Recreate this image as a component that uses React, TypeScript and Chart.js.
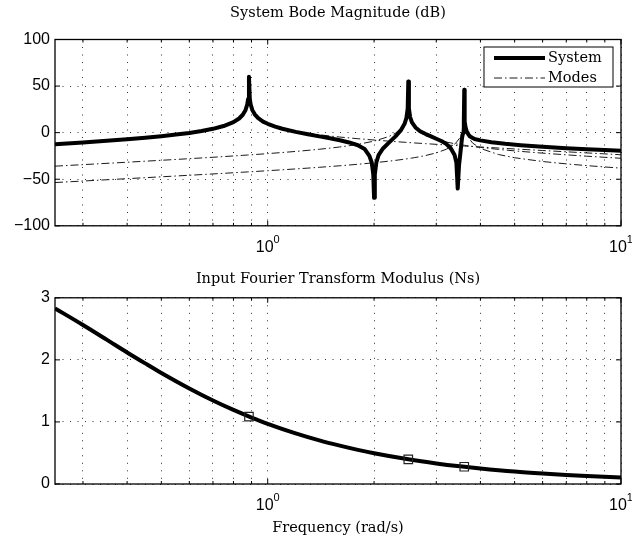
import React, { useEffect, useRef } from "react";
import { Chart, registerables } from "chart.js";
Chart.register(...registerables);

// ---------- data ----------
const sysFreq = [0.25, 0.3, 0.35, 0.4, 0.45, 0.5, 0.55, 0.6, 0.65, 0.7, 0.75, 0.8, 0.83, 0.85, 0.865, 0.875, 0.88, 0.885, 0.89, 0.895, 0.905, 0.92, 0.94, 0.97, 1.0, 1.05, 1.1, 1.2, 1.3, 1.4, 1.5, 1.6, 1.7, 1.8, 1.88, 1.94, 1.97, 1.99, 2.0, 2.01, 2.03, 2.06, 2.12, 2.2, 2.3, 2.38, 2.44, 2.47, 2.49, 2.5, 2.51, 2.53, 2.56, 2.62, 2.7, 2.8, 2.9, 3.0, 3.1, 3.2, 3.3, 3.38, 3.42, 3.45, 3.48, 3.515, 3.55, 3.575, 3.59, 3.6, 3.61, 3.63, 3.655, 3.7, 3.75, 3.85, 4.0, 4.3, 4.7, 5.2, 6, 7, 8, 9, 10];
const sysDb = [-12.5, -10.5, -8.7, -7.0, -5.4, -3.8, -2.1, -0.3, 1.7, 4.1, 7.1, 11.3, 15.2, 19.2, 24.1, 30.1, 36, 60, 36, 30.2, 24.2, 19.4, 15.5, 11.8, 9.5, 6.5, 4.2, 0.8, -1.8, -4.0, -6.1, -8.2, -10.5, -13.5, -17.5, -25, -32, -45, -70, -45, -32, -24, -17, -11, -4, 2.4, 9.5, 15.9, 25.7, 55, 26, 16.7, 11, 5.6, 1.5, -1.5, -4, -6.5, -9, -12, -17, -24, -32, -60, -35, -20, -5, 0, 10, 46, 12, 6, 2, -2, -4.5, -6.8, -8.3, -10.3, -12, -13.5, -15.2, -16.7, -17.8, -18.6, -19.3];

const modeFreq = [0.25, 0.3, 0.4, 0.5, 0.6, 0.7, 0.8, 0.85, 0.875, 0.885, 0.895, 0.92, 0.97, 1.0, 1.1, 1.2, 1.3, 1.4, 1.5, 1.6, 1.7, 1.8, 2.0, 2.2, 2.3, 2.4, 2.45, 2.49, 2.5, 2.51, 2.55, 2.6, 2.7, 2.8, 3.0, 3.2, 3.3, 3.4, 3.5, 3.55, 3.59, 3.6, 3.61, 3.65, 3.7, 3.8, 4.0, 4.5, 5.0, 6.0, 7.0, 8.0, 10];
const mode1Db = [-12.99, -11.07, -7.65, -4.35, -0.76, 3.76, 11.15, 19.13, 30.1, 60, 30.2, 19.47, 11.98, 9.48, 4.43, 1.44, -0.67, -2.29, -3.6, -4.71, -5.66, -6.5, -7.92, -9.11, -9.64, -10.13, -10.36, -10.55, -10.59, -10.64, -10.81, -11.03, -11.44, -11.82, -12.55, -13.21, -13.52, -13.82, -14.1, -14.24, -14.35, -14.38, -14.41, -14.52, -14.65, -14.91, -15.4, -16.52, -17.5, -19.17, -20.56, -21.75, -23.73];
const mode2Db = [-35.97, -34.35, -31.75, -29.68, -27.94, -26.41, -25.02, -24.36, -24.04, -23.91, -23.79, -23.48, -22.87, -22.5, -21.32, -20.16, -19.0, -17.83, -16.62, -15.36, -14.02, -12.56, -9.12, -4.24, -0.51, 5.7, 11.81, 25.86, 55, 25.9, 11.99, 6.05, 0.19, -3.18, -7.34, -10.01, -11.06, -11.97, -12.78, -13.15, -13.44, -13.51, -13.58, -13.85, -14.17, -14.77, -15.84, -17.96, -19.58, -22.01, -23.82, -25.27, -27.54];
const mode3Db = [-53.56, -51.95, -49.4, -47.4, -45.75, -44.32, -43.05, -42.46, -42.18, -42.07, -41.96, -41.69, -41.16, -40.86, -39.87, -38.94, -38.06, -37.2, -36.37, -35.56, -34.75, -33.94, -32.32, -30.64, -29.76, -28.84, -28.37, -27.97, -27.87, -27.77, -27.37, -26.85, -25.75, -24.54, -21.71, -17.89, -15.25, -11.59, -5.45, 0.64, 20, 46, 20, 0.76, -5.2, -11.11, -16.92, -23.49, -26.94, -30.99, -33.52, -35.4, -38.1];

const inputFreq = [0.25, 0.3, 0.35, 0.4, 0.45, 0.5, 0.6, 0.7, 0.8, 0.9, 1.0, 1.2, 1.4, 1.6, 1.8, 2.0, 2.5, 3.0, 3.5, 4, 5, 6, 7, 8, 10];
const inputMod = [2.83, 2.562, 2.326, 2.119, 1.943, 1.789, 1.539, 1.345, 1.193, 1.071, 0.97, 0.816, 0.703, 0.618, 0.55, 0.496, 0.398, 0.332, 0.285, 0.25, 0.2, 0.168, 0.145, 0.128, 0.105];
const markerFreq = [0.885, 2.5, 3.6];
const markerMod = [1.087, 0.398, 0.278];

const xGridVals = [0.3, 0.4, 0.5, 0.6, 0.7, 0.8, 0.9, 1, 2, 3, 4, 5, 6, 7, 8, 9, 10];
const xMajorVals = [1, 10];
const xMajorExp = ["0", "1"];
const legendLabels = ["System", "Modes"];
const titleTop = "System Bode Magnitude (dB)";
const titleBottom = "Input Fourier Transform Modulus (Ns)";
const xLabel = "Frequency (rad/s)";

const SERIF = '"DejaVu Serif", serif';
const SANS = '"Liberation Sans", Arial, sans-serif';
const MODE_DASH = [8, 3, 1.5, 3];
const MODE_COLOR = "#1a1a1a";

const pts = (xs: number[], ys: number[]) => xs.map((x, i) => ({ x, y: ys[i] }));

const decor = {
  id: "decor",
  afterDraw(chart: any, _args: any, opts: any) {
    const { ctx, chartArea: a, scales } = chart;
    const xs = scales.x;
    const ys = scales.y;
    const line = (x1: number, y1: number, x2: number, y2: number) => {
      ctx.beginPath();
      ctx.moveTo(x1, y1);
      ctx.lineTo(x2, y2);
      ctx.stroke();
    };
    ctx.save();
    ctx.setLineDash([]);
    ctx.strokeStyle = "#000";
    ctx.lineWidth = 1;
    xGridVals.forEach((v) => {
      const px = xs.getPixelForValue(v);
      const len = xMajorVals.includes(v) ? 5 : 3;
      line(px, a.bottom, px, a.bottom - len);
      line(px, a.top, px, a.top + len);
    });
    ys.ticks.forEach((t: any) => {
      const py = ys.getPixelForValue(t.value);
      line(a.left, py, a.left + 5, py);
      line(a.right, py, a.right - 5, py);
    });
    ctx.lineWidth = 1.3;
    ctx.strokeRect(a.left, a.top, a.right - a.left, a.bottom - a.top);

    // x tick labels 10^n
    ctx.fillStyle = "#000";
    ctx.textBaseline = "alphabetic";
    ctx.textAlign = "left";
    xMajorVals.forEach((v, i) => {
      const px = xs.getPixelForValue(v);
      ctx.font = `16px ${SANS}`;
      const w1 = ctx.measureText("10").width;
      ctx.font = `11px ${SANS}`;
      const w2 = ctx.measureText(xMajorExp[i]).width;
      const x0 = px - (w1 + w2) / 2;
      ctx.font = `16px ${SANS}`;
      ctx.fillText("10", x0, a.bottom + 26);
      ctx.font = `11px ${SANS}`;
      ctx.fillText(xMajorExp[i], x0 + w1, a.bottom + 17);
    });

    // title
    ctx.font = `14.5px ${SERIF}`;
    ctx.textAlign = "center";
    ctx.fillText(opts.title, (a.left + a.right) / 2, opts.titleY);
    if (opts.xlabel) {
      ctx.fillText(opts.xlabel, (a.left + a.right) / 2, opts.xlabelY);
    }

    // legend
    if (opts.legend) {
      const bx = 484, by = 47, bw = 129, bh = 40;
      ctx.fillStyle = "#fff";
      ctx.fillRect(bx, by, bw, bh);
      ctx.strokeStyle = "#000";
      ctx.lineWidth = 1;
      ctx.strokeRect(bx, by, bw, bh);
      ctx.lineWidth = 4;
      line(494, 58, 545, 58);
      ctx.lineWidth = 1;
      ctx.strokeStyle = MODE_COLOR;
      ctx.setLineDash(MODE_DASH);
      line(494, 78, 545, 78);
      ctx.setLineDash([]);
      ctx.fillStyle = "#000";
      ctx.textAlign = "left";
      ctx.textBaseline = "middle";
      ctx.font = `14.5px ${SERIF}`;
      ctx.fillText(legendLabels[0], 548, 58);
      ctx.fillText(legendLabels[1], 548, 78);
    }
    ctx.restore();
  },
};

function xScale(height: number) {
  return {
    type: "logarithmic",
    min: 0.25,
    max: 10,
    ticks: { display: false },
    grid: { color: "#333", lineWidth: 1, drawTicks: false },
    border: { display: false, dash: [1, 6.5] },
    afterBuildTicks: (s: any) => {
      s.ticks = xGridVals.map((v) => ({ value: v }));
    },
    afterFit: (s: any) => {
      s.height = height;
    },
  };
}

function yScale(min: number, max: number, step: number) {
  return {
    type: "linear",
    min,
    max,
    ticks: {
      stepSize: step,
      padding: 5,
      color: "#000",
      font: { family: SANS, size: 16 },
      callback: (v: any) => String(v).replace("-", "\u2212"),
    },
    grid: { color: "#333", lineWidth: 1, drawTicks: false },
    border: { display: false, dash: [1, 6.5] },
    afterFit: (s: any) => {
      s.width = 55;
    },
  };
}

export default function App() {
  const topRef = useRef<HTMLCanvasElement>(null);
  const botRef = useRef<HTMLCanvasElement>(null);

  useEffect(() => {
    const common = {
      responsive: false,
      animation: false,
      events: [],
      devicePixelRatio: 1,
    };
    const c1 = new Chart(topRef.current as HTMLCanvasElement, {
      type: "line",
      data: {
        datasets: [
          { data: pts(sysFreq, sysDb), borderColor: "#000", borderWidth: 4, pointRadius: 0, tension: 0, borderJoinStyle: "round" },
          { data: pts(modeFreq, mode1Db), borderColor: MODE_COLOR, borderWidth: 1, pointRadius: 0, tension: 0, borderDash: MODE_DASH },
          { data: pts(modeFreq, mode2Db), borderColor: MODE_COLOR, borderWidth: 1, pointRadius: 0, tension: 0, borderDash: MODE_DASH },
          { data: pts(modeFreq, mode3Db), borderColor: MODE_COLOR, borderWidth: 1, pointRadius: 0, tension: 0, borderDash: MODE_DASH },
        ],
      },
      options: {
        ...common,
        layout: { padding: { left: 0, right: 11, top: 39.5, bottom: 0 } },
        scales: { x: xScale(44.2), y: yScale(-100, 100, 50) },
        plugins: {
          legend: { display: false },
          tooltip: { enabled: false },
          decor: { title: titleTop, titleY: 17, legend: true },
        },
      } as any,
      plugins: [decor],
    } as any);

    const c2 = new Chart(botRef.current as HTMLCanvasElement, {
      type: "line",
      data: {
        datasets: [
          { data: pts(markerFreq, markerMod), showLine: false, pointStyle: "rect", pointRadius: 6, borderColor: "#222", borderWidth: 1.2, backgroundColor: "rgba(255,255,255,0)" },
          { data: pts(inputFreq, inputMod), borderColor: "#000", borderWidth: 4, pointRadius: 0, tension: 0.4, cubicInterpolationMode: "monotone" },
        ],
      },
      options: {
        ...common,
        layout: { padding: { left: 0, right: 11, top: 27.8, bottom: 0 } },
        scales: { x: xScale(55), y: yScale(0, 3, 1) },
        plugins: {
          legend: { display: false },
          tooltip: { enabled: false },
          decor: { title: titleBottom, titleY: 13, xlabel: xLabel, xlabelY: 262 },
        },
      } as any,
      plugins: [decor],
    } as any);

    return () => {
      c1.destroy();
      c2.destroy();
    };
  }, []);

  return (
    <div style={{ position: "absolute", left: 0, top: 0, width: 632, height: 539, background: "#fff" }}>
      <canvas ref={topRef} width={632} height={270} style={{ position: "absolute", left: 0, top: 0 }} />
      <canvas ref={botRef} width={632} height={269} style={{ position: "absolute", left: 0, top: 270 }} />
    </div>
  );
}
